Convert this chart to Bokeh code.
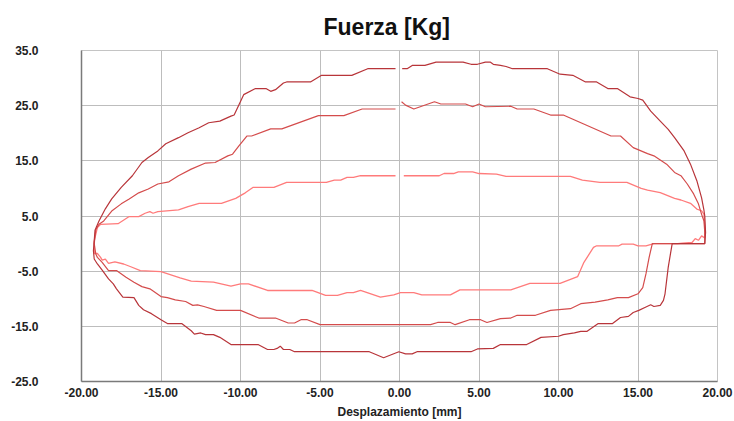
from bokeh.plotting import figure
from bokeh.models import Range1d, FixedTicker, NumeralTickFormatter
from bokeh.embed import file_html
from bokeh.resources import INLINE

# Hysteresis loops: displacement [mm] vs force [Kg], three amplitudes
outer_x = [0.17, 0.48, 0.8, 1.6, 2.3, 4.0, 4.5, 4.9, 5.4, 5.7, 5.9, 6.35, 6.7, 7.1, 9.3, 10.1, 10.9, 11.7,
           12.4, 13.1, 13.7, 14.5, 15.0, 15.3, 15.8, 16.4, 16.9, 17.3, 17.9, 18.3, 18.7, 19.0, 19.15, 19.2,
           19.25, 19.2, 17.15, 16.9, 16.7, 16.6, 16.4, 16.0, 15.8, 15.5, 15.05, 14.7, 14.4, 13.9, 13.4, 12.5,
           11.8, 11.4, 11.0, 10.3, 10.0, 8.9, 8.0, 6.35, 5.9, 4.9, 4.5, 1.1, 0.8, 0.38, -0.04, -1.0, -1.9,
           -6.6, -6.9, -7.3, -7.5, -7.7, -7.9, -8.3, -8.9, -10.6, -11.3, -11.7, -12.2, -12.5, -12.9, -13.1,
           -13.7, -14.6, -15.0, -15.6, -16.1, -16.4, -16.7, -17.4, -17.8, -18.0, -18.3, -18.7, -19.0, -19.2,
           -19.25, -19.2, -19.15, -18.9, -18.5, -18.1, -17.5, -16.8, -16.2, -15.8, -15.2, -14.7, -13.9,
           -13.3, -12.6, -12.0, -11.3, -10.6, -10.4, -9.8, -9.06, -8.4, -8.1, -7.8, -7.3, -7.1, -5.6, -4.9,
           -3.0, -2.0, -0.25]
outer_y = [31.7, 31.7, 32.3, 32.3, 32.9, 32.9, 32.5, 32.5, 32.9, 32.9, 32.5, 32.3, 32.1, 31.7, 31.7, 30.7,
           30.5, 29.3, 29.3, 28.1, 28.1, 26.6, 26.3, 26.0, 24.0, 22.2, 20.7, 19.2, 16.8, 14.4, 11.4, 8.3,
           6.0, 5.0, 2.0, 0.0, 0.0, -4.3, -9.1, -10.3, -11.2, -11.4, -11.1, -11.5, -12.1, -12.5, -13.2,
           -13.4, -14.5, -14.5, -15.9, -15.9, -16.2, -16.5, -16.8, -17.0, -18.3, -18.3, -19.0, -19.1, -19.6,
           -19.6, -20.0, -20.0, -19.6, -20.7, -19.6, -19.6, -19.2, -19.2, -18.6, -19.0, -19.2, -19.2, -18.3,
           -18.3, -17.0, -16.5, -16.5, -16.2, -16.4, -15.8, -14.5, -14.5, -13.8, -12.7, -12.0, -11.2, -9.8,
           -9.7, -8.2, -7.3, -6.4, -4.8, -3.7, -2.8, -1.3, 0.5, 2.4, 4.1, 6.3, 8.1, 10.2, 12.3, 14.7, 15.6,
           16.8, 18.1, 19.2, 20.1, 21.0, 21.9, 22.2, 23.1, 23.3, 27.0, 28.1, 28.1, 27.6, 27.9, 29.1, 29.3,
           29.3, 30.5, 30.5, 31.7, 31.7]

middle_x = [0.13, 0.38, 0.9, 2.2, 2.6, 4.15, 4.6, 5.0, 5.4, 7.0, 7.4, 8.45, 9.5, 10.3, 13.3, 13.9, 14.7,
            15.6, 16.0, 16.8, 17.3, 17.7, 18.1, 18.5, 18.8, 19.0, 19.15, 19.2, 19.2, 15.9, 15.7, 15.5, 15.3,
            15.0, 14.4, 13.7, 13.1, 12.3, 11.4, 10.75, 9.5, 8.55, 7.4, 7.0, 6.35, 5.5, 5.1, 4.4, 3.5, 3.2,
            2.4, 1.95, -5.0, -5.8, -6.2, -6.6, -7.0, -7.8, -8.85, -10.0, -11.5, -12.3, -12.7, -13.0, -13.45,
            -14.1, -14.6, -15.0, -15.7, -16.2, -16.7, -17.2, -17.8, -18.3, -18.7, -19.0, -19.1, -19.2,
            -19.1, -18.9, -18.6, -18.1, -17.5, -17.0, -16.4, -15.8, -15.2, -14.5, -13.9, -13.1, -12.2,
            -11.6, -10.8, -10.5, -10.1, -9.6, -9.3, -8.1, -7.4, -5.1, -3.5, -2.35, -0.25]
middle_y = [25.7, 25.1, 24.4, 25.7, 25.3, 25.3, 24.8, 25.3, 24.8, 24.9, 24.4, 24.4, 23.3, 23.3, 19.5, 19.5,
            17.4, 16.3, 15.9, 14.4, 12.9, 12.3, 10.8, 9.0, 7.2, 5.3, 4.1, 2.0, 0.0, 0.0, -2.5, -5.5, -8.0,
            -9.1, -9.8, -9.8, -10.2, -10.6, -10.9, -11.8, -12.1, -13.0, -13.0, -13.5, -13.6, -14.3, -13.8,
            -13.8, -14.7, -14.3, -14.3, -14.7, -14.7, -13.8, -13.8, -14.4, -14.4, -13.5, -13.5, -12.1,
            -12.1, -11.4, -11.1, -11.2, -10.5, -10.2, -9.8, -9.6, -8.2, -7.8, -7.0, -6.1, -4.9, -4.9, -3.4,
            -2.5, -1.9, 0.0, 2.5, 3.5, 4.1, 5.9, 7.2, 8.1, 9.2, 9.9, 10.8, 11.2, 12.3, 13.5, 14.6, 14.7,
            15.9, 16.2, 17.7, 19.5, 19.5, 20.8, 20.8, 23.2, 23.2, 24.4, 24.4]

inner_x = [0.27, 2.5, 2.8, 3.4, 3.7, 4.6, 5.0, 6.1, 6.7, 10.75, 11.5, 12.6, 14.3, 15.2, 15.6, 16.4, 17.3,
           17.7, 18.3, 18.7, 19.0, 19.15, 19.2, 19.2, 19.0, 18.8, 18.6, 18.4, 17.8, 17.5, 16.0, 15.5, 15.0,
           14.7, 14.0, 13.8, 12.4, 12.2, 11.6, 11.2, 10.1, 8.2, 7.0, 3.8, 3.2, 1.4, 0.9, 0.06, -0.36, -1.2,
           -2.45, -2.9, -3.3, -3.9, -4.65, -5.5, -8.3, -9.5, -10.0, -10.6, -11.7, -13.1, -13.8, -15.0,
           -16.3, -16.9, -17.35, -17.9, -18.3, -18.5, -18.7, -18.8, -19.0, -19.2, -19.2, -19.0, -18.8,
           -17.7, -17.0, -16.4, -16.0, -15.7, -15.5, -15.2, -13.9, -13.3, -12.6, -11.2, -10.3, -9.7, -9.2,
           -7.9, -7.1, -4.6, -4.1, -3.7, -3.3, -2.9, -2.45, -0.25]
inner_y = [12.3, 12.3, 12.7, 12.7, 13.0, 13.0, 12.7, 12.6, 12.2, 12.2, 11.5, 11.1, 11.1, 10.0, 9.7, 9.25,
           8.2, 7.9, 7.3, 6.25, 5.95, 5.3, 3.0, 1.0, 1.4, 0.6, 0.9, 0.2, 0.1, 0.0, 0.0, -0.4, -0.4, -0.1,
           -0.1, -0.4, -0.4, -0.7, -3.4, -6.0, -7.2, -7.2, -8.4, -8.4, -9.3, -9.3, -8.9, -8.9, -9.3, -9.7,
           -8.5, -8.9, -8.9, -9.4, -9.4, -8.5, -8.5, -7.3, -7.3, -7.7, -7.0, -6.8, -6.2, -5.1, -4.9, -4.2,
           -3.7, -3.3, -3.6, -2.8, -3.0, -2.5, -1.8, -1.8, 0.5, 2.9, 3.5, 3.6, 4.9, 4.9, 5.5, 5.8, 5.5, 5.8,
           6.1, 6.7, 7.3, 7.3, 8.2, 9.2, 10.2, 10.2, 11.1, 11.1, 11.5, 11.5, 12.0, 12.0, 12.3, 12.3]

x_ticks = [-20, -15, -10, -5, 0, 5, 10, 15, 20]
y_ticks = [-25, -15, -5, 5, 15, 25, 35]

FONT = "Liberation Sans"

p = figure(width=734, height=421, output_backend="svg", toolbar_location=None,
           x_range=Range1d(-20, 20), y_range=Range1d(-25, 35),
           min_border_left=81, min_border_right=17, min_border_top=49, min_border_bottom=40,
           title="Fuerza [Kg]")
p.background_fill_color = "white"
p.border_fill_color = "white"
p.outline_line_color = "#c4c4c4"
p.outline_line_width = 1

p.title.align = "left"
p.title.offset = 242
p.title.text_font = FONT
p.title.text_font_size = "23px"
p.title.text_font_style = "bold"
p.title.text_color = "#111111"
p.title.text_line_height = 0.7
p.title.standoff = 22

for ax in (p.xaxis[0], p.yaxis[0]):
    ax.major_label_text_font = FONT
    ax.major_label_text_font_style = "bold"
    ax.major_label_text_font_size = "12px"
    ax.major_label_text_color = "#222222"
    ax.major_tick_out = 0
    ax.major_tick_in = 0
    ax.minor_tick_out = 0
    ax.minor_tick_in = 0
    ax.axis_line_color = "#7a7a7a"
    ax.axis_line_width = 1.5

p.xaxis.ticker = FixedTicker(ticks=x_ticks)
p.yaxis.ticker = FixedTicker(ticks=y_ticks)
p.xaxis.formatter = NumeralTickFormatter(format="0.00")
p.yaxis.formatter = NumeralTickFormatter(format="0.0")
p.yaxis.major_label_standoff = 43
p.xaxis.major_label_standoff = 6

p.xaxis.axis_label = "Desplazamiento [mm]"
p.xaxis.axis_label_text_font = FONT
p.xaxis.axis_label_text_font_style = "bold"
p.xaxis.axis_label_text_font_size = "12px"
p.xaxis.axis_label_text_color = "#222222"
p.xaxis.axis_label_standoff = 5

p.xgrid.grid_line_color = "#bdbdbd"
p.ygrid.grid_line_color = "#bdbdbd"
p.xgrid.grid_line_width = 1
p.ygrid.grid_line_width = 1

p.line(inner_x, inner_y, line_color="#ff7b7b", line_width=1.3)
p.line(middle_x, middle_y, line_color="#d44c4c", line_width=1.2)
p.line(outer_x, outer_y, line_color="#b8353a", line_width=1.2)

open("out.html", "w").write(file_html(p, INLINE))
